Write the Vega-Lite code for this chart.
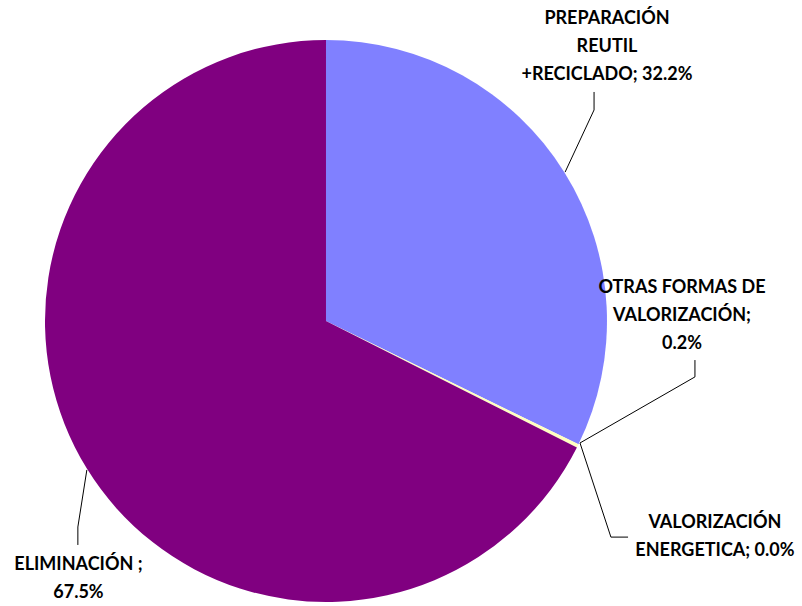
{
  "$schema": "https://vega.github.io/schema/vega-lite/v6.json",
  "width": 802,
  "height": 606,
  "padding": 0,
  "autosize": {"type": "none"},
  "background": "white",
  "config": {"view": {"stroke": null}},
  "datasets": {
    "slices": [
      {"category": "PREPARACIÓN REUTIL +RECICLADO", "pct": 32.2, "order": 1},
      {"category": "OTRAS FORMAS DE VALORIZACIÓN", "pct": 0.2, "order": 2},
      {"category": "VALORIZACIÓN ENERGETICA", "pct": 0.0, "order": 3},
      {"category": "ELIMINACIÓN", "pct": 67.5, "order": 4}
    ],
    "labels": [
      {"label": "PREPARACIÓN\nREUTIL\n+RECICLADO; 32.2%", "u": 1.0, "v": 1.075},
      {"label": "OTRAS FORMAS DE\nVALORIZACIÓN;\n0.2%", "u": 1.267, "v": 0.117},
      {"label": "VALORIZACIÓN\nENERGETICA; 0.0%", "u": 1.384, "v": -0.719},
      {"label": "ELIMINACIÓN ;\n67.5%", "u": -0.881, "v": -0.868}
    ],
    "leaders": [
      {"series": "prep", "step": 1, "u": 0.954, "v": 0.815},
      {"series": "prep", "step": 2, "u": 0.954, "v": 0.751},
      {"series": "prep", "step": 3, "u": 0.851, "v": 0.53},
      {"series": "otras", "step": 1, "u": 1.313, "v": -0.139},
      {"series": "otras", "step": 2, "u": 1.313, "v": -0.199},
      {"series": "otras", "step": 3, "u": 0.904, "v": -0.434},
      {"series": "energ", "step": 1, "u": 0.904, "v": -0.434},
      {"series": "energ", "step": 2, "u": 1.014, "v": -0.769},
      {"series": "energ", "step": 3, "u": 1.075, "v": -0.769},
      {"series": "elim", "step": 1, "u": -0.851, "v": -0.53},
      {"series": "elim", "step": 2, "u": -0.883, "v": -0.733},
      {"series": "elim", "step": 3, "u": -0.883, "v": -0.797}
    ]
  },
  "layer": [
    {
      "data": {"name": "slices"},
      "mark": {"type": "arc", "outerRadius": 281},
      "encoding": {
        "x": {"datum": 0, "type": "quantitative", "scale": {"domain": [-1.1601, 1.694], "nice": false, "zero": false}, "axis": null},
        "y": {"datum": 0, "type": "quantitative", "scale": {"domain": [-1.0142, 1.1423], "nice": false, "zero": false}, "axis": null},
        "theta": {"field": "pct", "type": "quantitative", "stack": true},
        "order": {"field": "order", "type": "quantitative"},
        "color": {
          "field": "category",
          "type": "nominal",
          "scale": {
            "domain": ["PREPARACIÓN REUTIL +RECICLADO", "OTRAS FORMAS DE VALORIZACIÓN", "VALORIZACIÓN ENERGETICA", "ELIMINACIÓN"],
            "range": ["#8080FF", "#FFFFC0", "#FFFFFF", "#800080"]
          },
          "legend": null
        }
      }
    },
    {
      "data": {"name": "leaders"},
      "mark": {"type": "line", "color": "black", "strokeWidth": 1},
      "encoding": {
        "x": {"field": "u", "type": "quantitative", "axis": null},
        "y": {"field": "v", "type": "quantitative", "axis": null},
        "detail": {"field": "series"},
        "order": {"field": "step", "type": "quantitative"}
      }
    },
    {
      "data": {"name": "labels"},
      "mark": {"type": "text", "font": "Lato", "fontWeight": "bold", "fontSize": 18, "lineHeight": 28, "lineBreak": "\n", "align": "center", "baseline": "middle", "color": "black"},
      "encoding": {
        "x": {"field": "u", "type": "quantitative", "axis": null},
        "y": {"field": "v", "type": "quantitative", "axis": null},
        "text": {"field": "label"}
      }
    }
  ]
}
